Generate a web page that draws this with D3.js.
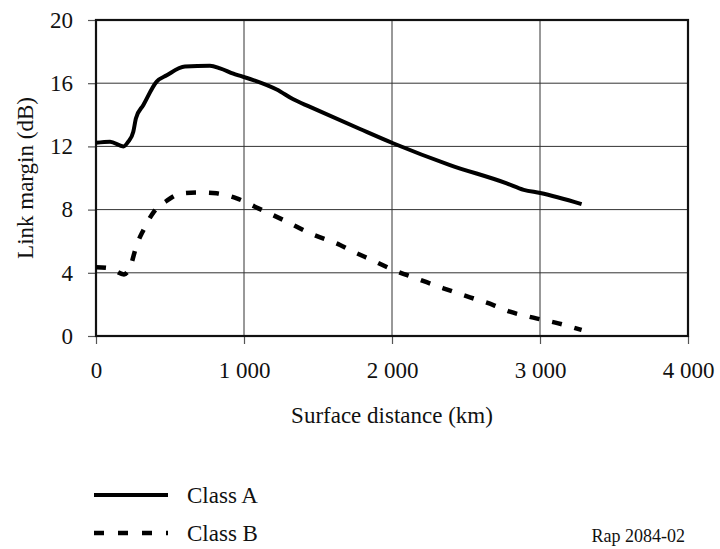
<!DOCTYPE html>
<html>
<head>
<meta charset="utf-8">
<script src="https://cdn.jsdelivr.net/npm/d3@7"></script>
<style>
  html, body { margin: 0; padding: 0; background: #fff; }
  svg { display: block; font-family: "Liberation Serif", "Times New Roman", serif; }
</style>
</head>
<body>
<svg id="chart" width="720" height="549"></svg>
<script>
// Surface distance (km) and link margin (dB) for the two receiver classes
const classADistance = [0, 95, 185, 218, 252, 270, 320, 410, 478, 601, 770, 838, 928, 1063, 1221, 1333, 1446, 1784, 2007, 2392, 2775, 2890, 3002, 3281];
const classAMargin   = [12.23, 12.3, 12.0, 12.3, 12.93, 13.78, 14.62, 16.1, 16.5, 17.05, 17.1, 16.94, 16.6, 16.2, 15.6, 14.98, 14.5, 13.1, 12.2, 10.82, 9.66, 9.25, 9.05, 8.35];

const classBDistance = [0, 95, 189, 230, 275, 320, 392, 478, 579, 703, 815, 951, 1097, 1266, 1446, 1649, 1739, 1863, 2009, 2178, 2347, 2527, 2685, 2797, 2955, 3124, 3281];
const classBMargin   = [4.35, 4.28, 3.9, 4.35, 5.76, 6.7, 7.87, 8.56, 9.03, 9.09, 9.03, 8.71, 8.08, 7.34, 6.5, 5.76, 5.34, 4.81, 4.18, 3.6, 3.02, 2.45, 1.96, 1.54, 1.16, 0.8, 0.38];

const xTicks = [0, 1000, 2000, 3000, 4000];
const yTicks = [0, 4, 8, 12, 16, 20];

const seriesNames = ["Class A", "Class B"];
const xTitle = "Surface distance (km)";
const yTitle = "Link margin (dB)";
const figureRef = "Rap 2084-02";

const svg = d3.select("#chart");
const plot = { left: 96, right: 688, top: 20, bottom: 336 };

const x = d3.scaleLinear().domain([0, 4000]).range([plot.left, plot.right]);
const y = d3.scaleLinear().domain([0, 20]).range([plot.bottom, plot.top]);

const fmt = d3.formatLocale({ decimal: ",", thousands: " ", grouping: [3], currency: ["", ""] }).format(",");

// Grid
const grid = svg.append("g").attr("stroke", "#333").attr("stroke-width", 1);
grid.selectAll(".gx").data(xTicks.slice(1, -1)).join("line")
  .attr("x1", d => x(d)).attr("x2", d => x(d)).attr("y1", plot.top).attr("y2", plot.bottom);
grid.selectAll(".gy").data(yTicks.slice(1, -1)).join("line")
  .attr("x1", plot.left).attr("x2", plot.right).attr("y1", d => y(d)).attr("y2", d => y(d));

// Axes
const fontSize = 23;
const yAxis = svg.append("g").attr("transform", `translate(${plot.left},0)`)
  .call(d3.axisLeft(y).tickValues(yTicks).tickSize(8).tickPadding(15).tickFormat(d3.format("d")));
const xAxis = svg.append("g").attr("transform", `translate(0,${plot.bottom})`)
  .call(d3.axisBottom(x).tickValues(xTicks).tickSize(8).tickPadding(18).tickFormat(fmt));
[xAxis, yAxis].forEach(a => {
  a.select(".domain").remove();
  a.selectAll(".tick line").attr("stroke", "#555").attr("stroke-width", 1.2);
  a.selectAll(".tick text").attr("fill", "#111").attr("font-size", fontSize)
    .attr("font-family", "Liberation Serif, Times New Roman, serif");
});

// Frame
svg.append("rect").attr("x", plot.left).attr("y", plot.top)
  .attr("width", plot.right - plot.left).attr("height", plot.bottom - plot.top)
  .attr("fill", "none").attr("stroke", "#111").attr("stroke-width", 2.2);

// Series
const line = d3.line().x(d => x(d[0])).y(d => y(d[1])).curve(d3.curveMonotoneX);
const dataA = d3.zip(classADistance, classAMargin);
const dataB = d3.zip(classBDistance, classBMargin);

svg.append("path").datum(dataA).attr("d", line)
  .attr("fill", "none").attr("stroke", "#000").attr("stroke-width", 4).attr("stroke-linejoin", "round");
svg.append("path").datum(dataB).attr("d", line)
  .attr("fill", "none").attr("stroke", "#000").attr("stroke-width", 4.5).attr("stroke-dasharray", "10,13");

// Axis titles
svg.append("text").attr("x", x(2000)).attr("y", 423).attr("text-anchor", "middle")
  .attr("font-size", fontSize).attr("fill", "#111").text(xTitle);
svg.append("text").attr("transform", `translate(25,${(plot.top + plot.bottom) / 2}) rotate(-90)`)
  .attr("text-anchor", "middle").attr("dy", "0.35em")
  .attr("font-size", fontSize).attr("fill", "#111").text(yTitle);

// Legend
const legend = svg.append("g");
const legendRows = [{ name: seriesNames[0], y: 495, dash: null }, { name: seriesNames[1], y: 533, dash: "10,14" }];
legendRows.forEach(r => {
  legend.append("line").attr("x1", 94).attr("x2", 168).attr("y1", r.y).attr("y2", r.y)
    .attr("stroke", "#000").attr("stroke-width", r.dash ? 4.5 : 4).attr("stroke-dasharray", r.dash);
  legend.append("text").attr("x", 187).attr("y", r.y + 8).attr("font-size", fontSize)
    .attr("fill", "#111").text(r.name);
});

svg.append("text").attr("x", 685).attr("y", 542).attr("text-anchor", "end")
  .attr("font-size", 18).attr("fill", "#111").text(figureRef);
</script>
</body>
</html>
